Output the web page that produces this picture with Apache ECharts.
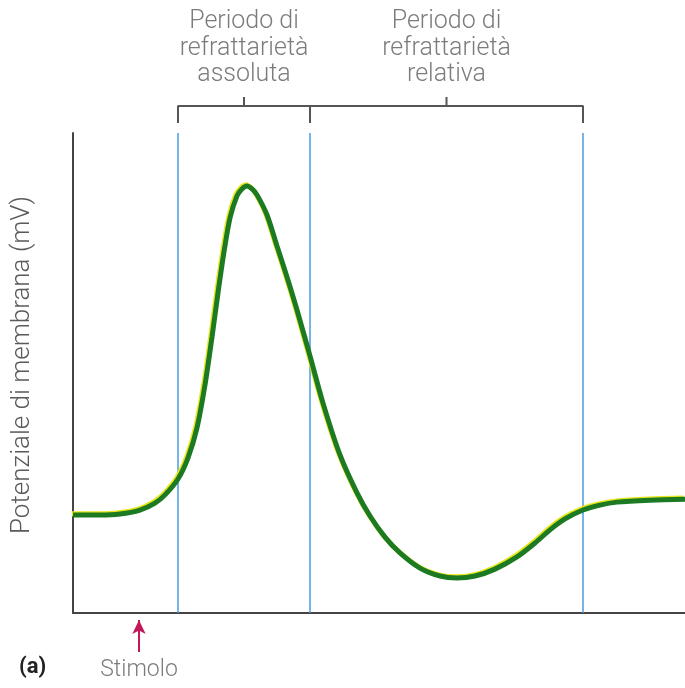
<!DOCTYPE html>
<html><head><meta charset="utf-8">
<script src="https://cdn.jsdelivr.net/npm/echarts@6/dist/echarts.min.js"></script>
<style>html,body{margin:0;padding:0;background:#fff}#c{width:685px;height:688px}</style>
</head><body><div id="c"></div>
<script>
// time (ms, arbitrary) and membrane potential (mV, arbitrary)
const timeMs = [0, 0.27, 0.47, 0.67, 0.82, 0.92, 1.05, 1.15, 1.24, 1.32, 1.39, 1.45, 1.51, 1.57, 1.64, 1.69, 1.74, 1.79, 1.84, 1.94, 2.04, 2.14, 2.24, 2.37, 2.50, 2.67, 2.84, 2.97, 3.12, 3.27, 3.47, 3.67, 3.84, 4.02, 4.22, 4.44, 4.62, 4.77, 4.92, 5.10, 5.27, 5.44, 5.77, 6.12];
const potentialMv = [-70.3, -70.3, -70.0, -68.8, -66.7, -64.2, -59.4, -53.0, -43.9, -30.9, -16.4, -3.0, 9.4, 19.7, 26.4, 28.5, 29.4, 28.5, 26.7, 20.6, 11.2, 1.8, -8.2, -22.1, -36.4, -52.1, -63.6, -70.6, -77.0, -81.8, -86.4, -88.8, -89.4, -88.8, -86.7, -83.0, -78.8, -74.8, -71.5, -68.8, -67.3, -66.4, -65.8, -65.5];
const periodBounds = [1.05, 2.37, 5.10];
const periodLabels = ["Periodo di\nrefrattarietà\nassoluta", "Periodo di\nrefrattarietà\nrelativa"];
const stimulusTime = 0.66;
const stimulusLabel = "Stimolo";
const yAxisTitle = "Potenziale di membrana (mV)";
const panelLabel = "(a)";

const X_MIN = 0, X_MAX = 6.12;
const txtColor = '#5a5a5a';
const font = 'Roboto';

// bracket geometry in bracket-grid units (inverse axis, 0 = top)
const B_BAR = 16, B_END = 33, B_UP = 7;
const bracketSeries = [];
function seg(pts){
  bracketSeries.push({type:'line', xAxisIndex:1, yAxisIndex:1, data:pts, symbol:'none', silent:true,
    lineStyle:{color:'#555', width:2}, animation:false});
}
seg([[periodBounds[0],B_END],[periodBounds[0],B_BAR],[periodBounds[2],B_BAR],[periodBounds[2],B_END]]);
seg([[periodBounds[1],B_BAR],[periodBounds[1],B_END]]);
const mids = [];
for (let i=0;i<periodBounds.length-1;i++){
  const m=(periodBounds[i]+periodBounds[i+1])/2; mids.push(m);
  seg([[m,B_BAR],[m,B_UP]]);
}

const chart = echarts.init(document.getElementById('c'), null, {renderer:'canvas'});
chart.setOption({
  animation:false,
  backgroundColor:'#fff',
  grid:[
    {left:73, top:133, width:612, height:480},
    {left:73, top:90, width:612, height:40},
    {left:73, top:618, width:612, height:70}
  ],
  xAxis:[
    {type:'value', gridIndex:0, min:X_MIN, max:X_MAX, axisLine:{onZero:false, lineStyle:{color:'#444', width:2}}, axisTick:{show:false}, axisLabel:{show:false}, splitLine:{show:false}},
    {type:'value', gridIndex:1, min:X_MIN, max:X_MAX, show:false},
    {type:'value', gridIndex:2, min:X_MIN, max:X_MAX, show:false}
  ],
  yAxis:[
    {type:'value', gridIndex:0, min:-100, max:45.45, axisLine:{show:true, onZero:false, lineStyle:{color:'#444', width:2}}, axisTick:{show:false}, axisLabel:{show:false}, splitLine:{show:false},
     name:yAxisTitle, nameLocation:'middle', nameGap:38, nameTextStyle:{color:txtColor, fontSize:26, fontFamily:font, fontWeight:300, padding:[0,0,0,16]}},
    {type:'value', gridIndex:1, min:0, max:40, inverse:true, show:false},
    {type:'value', gridIndex:2, min:0, max:70, inverse:true, show:false}
  ],
  series:[
    {type:'line', xAxisIndex:0, yAxisIndex:0, data:[], z:1, silent:true,
     markLine:{silent:true, symbol:['none','none'], label:{show:false}, lineStyle:{color:'#4a9be0', width:1.5, type:'solid'},
       data: periodBounds.map(b=>({xAxis:b}))}},
    {type:'line', xAxisIndex:0, yAxisIndex:0, z:5, data: timeMs.map((t,i)=>[t, potentialMv[i]]), smooth:0.3, symbol:'none', silent:true,
     lineStyle:{color:'#1b7a22', width:5, shadowColor:'#e6e61a', shadowBlur:0, shadowOffsetX:-1.2, shadowOffsetY:-1.2}},
    ...bracketSeries,
    {type:'scatter', xAxisIndex:1, yAxisIndex:1, symbolSize:0, silent:true,
     data: mids.map((m,i)=>({value:[m,B_UP], label:{show:true, position:'top', distance:9, formatter:periodLabels[i], align:'center', color:txtColor, fontSize:25, fontFamily:font, fontWeight:300, lineHeight:26.5}}))},
    {type:'line', xAxisIndex:2, yAxisIndex:2, data:[], silent:true,
     markLine:{silent:true, symbol:['none','arrow'], symbolSize:[10,14], label:{show:false}, lineStyle:{color:'#c2185b', width:2, type:'solid'},
       data:[[{coord:[stimulusTime,34]},{coord:[stimulusTime,2]}]]}},
    {type:'scatter', xAxisIndex:2, yAxisIndex:2, symbolSize:0, silent:true,
     data:[{value:[stimulusTime,52], label:{show:true, position:'inside', formatter:stimulusLabel, color:txtColor, fontSize:23, fontFamily:font, fontWeight:300}}]}
  ],
  graphic:[
    {type:'text', left:19, top:656, style:{text:panelLabel, fill:'#222', font:'bold 22px Roboto'}}
  ]
});
</script></body></html>
